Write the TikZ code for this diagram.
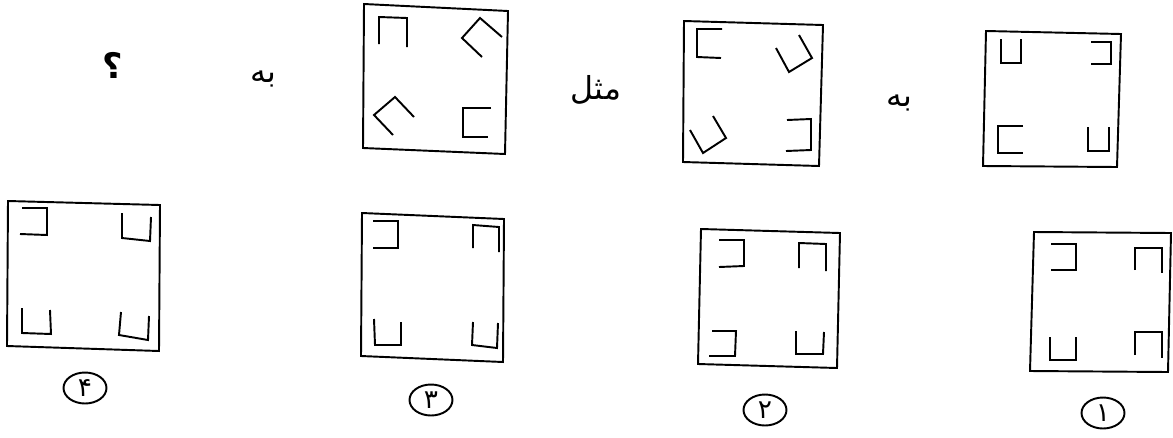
\documentclass[tikz,border=0pt]{standalone}
\usepackage{fontspec}
\newfontfamily\arabicfont[Script=Arabic]{DejaVu Sans}
\TeXXeTstate=1
\usetikzlibrary{shapes.geometric}

\begin{document}
\begin{tikzpicture}
[
	x=0.02cm, y=-0.02cm,
	frame/.style={line width=1.1pt, line join=miter},
	hook/.style={line width=1.1pt},
	word/.style={font=\arabicfont\fontsize{18}{20}\selectfont, inner sep=0pt},
	choice/.style={ellipse, draw, line width=1.1pt, minimum width=0.86cm, minimum height=0.62cm, inner sep=0pt, font=\arabicfont\fontsize{15}{16}\selectfont}
]
	\useasboundingbox (0,0) rectangle (1173,437);

	% question row
	\node[word, font=\arabicfont\bfseries\fontsize{20}{22}\selectfont] (q) at (113,65) {\beginR ؟\endR};
	\node[word] (to1) at (263,79) {\beginR به\endR};
	\node[word] (like) at (596,90) {\beginR مثل\endR};
	\node[word] (to2) at (899,103) {\beginR به\endR};

	% frame A
	\draw[frame] (986,31) -- (1121,34) -- (1117,167) -- (983,166) -- cycle;
	\draw[hook] (1001,39) -- (1001,63) -- (1021,63) -- (1021,39);
	\draw[hook] (1091,42) -- (1111,42) -- (1111,64) -- (1091,64);
	\draw[hook] (1023,126) -- (998,126) -- (998,153) -- (1023,153);
	\draw[hook] (1088,127) -- (1088,151) -- (1109,151) -- (1109,127);

	% frame B
	\draw[frame] (684,21) -- (823,25) -- (819,166) -- (683,162) -- cycle;
	\draw[hook] (722,29) -- (697,29) -- (697,57) -- (721,58);
	\draw[hook] (776,48) -- (789,72) -- (812,58) -- (799,35);
	\draw[hook] (690,130) -- (703,153) -- (726,138) -- (713,116);
	\draw[hook] (787,120) -- (811,119) -- (811,150) -- (786,151);

	% frame C
	\draw[frame] (364,4) -- (508,11) -- (505,154) -- (363,148) -- cycle;
	\draw[hook] (379,44) -- (379,17) -- (407,18) -- (407,47);
	\draw[hook] (502,37) -- (480,18) -- (462,38) -- (482,57);
	\draw[hook] (414,117) -- (395,97) -- (374,115) -- (393,135);
	\draw[hook] (491,108) -- (463,108) -- (463,137) -- (488,137);

	% answer 4
	\draw[frame] (8,201) -- (160,205) -- (159,351) -- (7,346) -- cycle;
	\draw[hook] (22,208) -- (47,208) -- (47,235) -- (20,234);
	\draw[hook] (122,213) -- (122,238) -- (150,241) -- (151,217);
	\draw[hook] (22,308) -- (22,333) -- (51,334) -- (50,310);
	\draw[hook] (121,312) -- (119,335) -- (148,340) -- (149,316);
	\node[choice] (opt4) at (85,388) {۴};

	% answer 3
	\draw[frame] (362,213) -- (504,219) -- (503,362) -- (361,356) -- cycle;
	\draw[hook] (373,221) -- (398,221) -- (398,248) -- (373,248);
	\draw[hook] (473,248) -- (473,225) -- (499,227) -- (499,252);
	\draw[hook] (374,319) -- (375,345) -- (401,345) -- (401,322);
	\draw[hook] (473,322) -- (472,345) -- (497,348) -- (498,323);
	\node[choice] (opt3) at (431,400) {۳};

	% answer 2
	\draw[frame] (701,229) -- (840,233) -- (837,368) -- (698,364) -- cycle;
	\draw[hook] (719,240) -- (744,240) -- (744,266) -- (719,267);
	\draw[hook] (799,268) -- (799,243) -- (826,244) -- (826,271);
	\draw[hook] (712,331) -- (736,331) -- (735,356) -- (709,356);
	\draw[hook] (796,331) -- (796,354) -- (823,354) -- (824,332);
	\node[choice] (opt2) at (765,410) {۲};

	% answer 1
	\draw[frame] (1034,232) -- (1171,233) -- (1168,372) -- (1030,371) -- cycle;
	\draw[hook] (1051,244) -- (1076,244) -- (1076,270) -- (1051,270);
	\draw[hook] (1135,270) -- (1135,248) -- (1162,248) -- (1162,273);
	\draw[hook] (1050,337) -- (1050,360) -- (1076,360) -- (1076,337);
	\draw[hook] (1135,355) -- (1135,332) -- (1162,332) -- (1162,358);
	\node[choice] (opt1) at (1103,413) {۱};

\end{tikzpicture}
\end{document}
